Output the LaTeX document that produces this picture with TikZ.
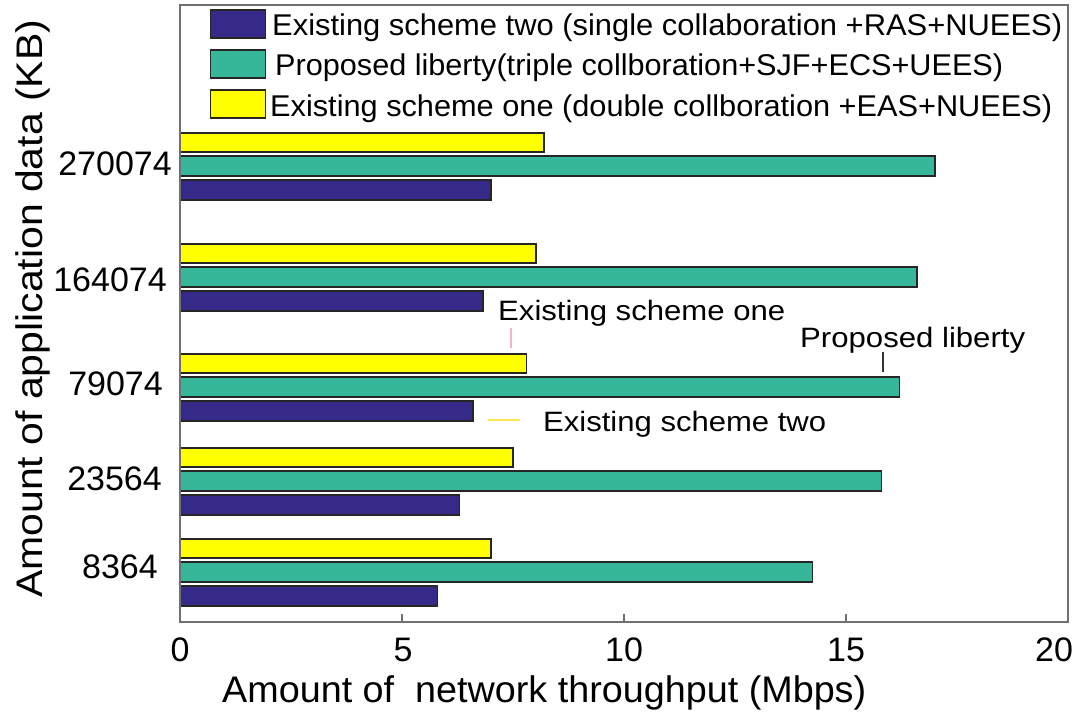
\documentclass[tikz,border=0pt]{standalone}
\usepackage{fontspec}
\setmainfont{Liberation Sans}
\newcommand{\fitw}[2]{\resizebox{#1}{\height}{#2}}
\definecolor{cblue}{HTML}{352A87}
\definecolor{cgreen}{HTML}{36B79A}
\definecolor{cyel}{HTML}{FFFF00}
\definecolor{cframe}{HTML}{707070}
\begin{document}
\begin{tikzpicture}[x=1pt,y=-1pt,
  barline/.style={draw=black!85,line width=1.4pt},
  legsq/.style={draw=black!85,line width=1.4pt,minimum width=55pt,minimum height=28pt,inner sep=0pt},
  legtxt/.style={inner sep=0pt,anchor=base west,font=\fontsize{30}{30}\selectfont},
  anntxt/.style={inner sep=0pt,anchor=base west,font=\fontsize{28}{28}\selectfont},
  ticklab/.style={inner sep=0pt,anchor=base east,font=\fontsize{34}{34}\selectfont},
  xticklab/.style={inner sep=0pt,anchor=base,font=\fontsize{34}{34}\selectfont},
  axlab/.style={inner sep=0pt,font=\fontsize{37}{37}\selectfont}]
\useasboundingbox (0,0) rectangle (1076,715);
\fill[white] (0,0) rectangle (1076,715);
% bars
\foreach \yc/\lab/\bl/\rx/\a/\b/\c [count=\i] in {166/270074/175/172/8.2/17.0/7.0, 277/164074/291/167/8.02/16.6/6.82, 387/79074/395/163/7.8/16.2/6.6, 481/23564/490/162/7.5/15.8/6.3, 572/8364/578/158/7.0/14.25/5.8}{
  \draw[barline,fill=cyel] (180,{\yc-33}) rectangle ({180+44.4*\a},{\yc-14});
  \draw[barline,fill=cgreen] (180,{\yc-10}) rectangle ({180+44.4*\b},{\yc+10});
  \draw[barline,fill=cblue] (180,{\yc+14}) rectangle ({180+44.4*\c},{\yc+34});
  \node[ticklab] (yl\i) at (\rx,\bl) {\lab};
}
% frame
\draw[cframe,line width=1.5pt] (180,5) rectangle (1068,622);
\foreach \v [count=\j] in {5,10,15}{
  \draw[cframe,line width=1.2pt] ({180+44.4*\v},622) -- ++(0,-8);
}
\foreach \v/\x [count=\j] in {0/180,5/403,10/624,15/846,20/1054}{
  \node[xticklab] (xl\j) at (\x,661) {\v};
}
% legend
\node[legsq,fill=cblue] (lg1) at (238,24) {};
\node[legsq,fill=cgreen] (lg2) at (238,64) {};
\node[legsq,fill=cyel] (lg3) at (238,104) {};
\node[legtxt] (lt1) at (272,35) {\fitw{790pt}{Existing scheme two (single collaboration +RAS+NUEES)}};
\node[legtxt] (lt2) at (275,75) {\fitw{728pt}{Proposed liberty(triple collboration+SJF+ECS+UEES)}};
\node[legtxt] (lt3) at (270,116) {\fitw{782pt}{Existing scheme one (double collboration +EAS+NUEES)}};
% annotations
\node[anntxt] (a1) at (498,320) {\fitw{287pt}{Existing scheme one}};
\node[anntxt] (a2) at (800,347) {\fitw{225pt}{Proposed liberty}};
\node[anntxt] (a3) at (543,431) {\fitw{283pt}{Existing scheme two}};
\coordinate (p1a) at (511,328); \coordinate (p1b) at (511,348);
\coordinate (p2a) at (883,352); \coordinate (p2b) at (883,372);
\coordinate (p3a) at (488,420); \coordinate (p3b) at (520,420);
\draw[color={rgb,255:red,245;green,180;blue,200},line width=1.2pt] (p1a) -- (p1b);
\draw[black!80,line width=1.2pt] (p2a) -- (p2b);
\draw[color={rgb,255:red,255;green,230;blue,80},line width=1.2pt] (p3a) -- (p3b);
% axis labels
\node[axlab,anchor=base west] (xlab) at (222,702) {\fitw{644pt}{Amount of \ network throughput (Mbps)}};
\node[axlab,anchor=base west,rotate=90] (ylab) at (42,598) {\fitw{578pt}{Amount of application data (KB)}};
\end{tikzpicture}
\end{document}
